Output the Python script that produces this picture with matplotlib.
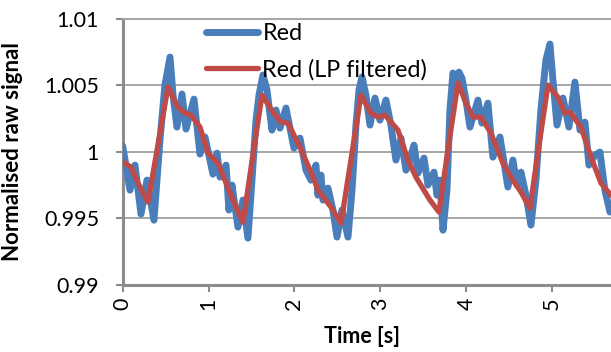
import matplotlib

matplotlib.use("Agg")
import matplotlib.pyplot as plt

plt.rcParams["font.family"] = ["Lato", "DejaVu Sans"]

# raw red channel (local peaks/troughs of the noisy trace)
blue_t = [0.00, 0.085, 0.143, 0.213, 0.283, 0.364, 0.434, 0.492, 0.551, 0.586,
          0.632, 0.690, 0.737, 0.830, 0.900, 0.958, 1.051, 1.098,
          1.133, 1.203, 1.237, 1.272, 1.342, 1.400, 1.458, 1.505, 1.552, 1.587,
          1.633, 1.680, 1.738, 1.785, 1.831, 1.901, 1.994, 2.064, 2.134, 2.192,
          2.250, 2.273, 2.308, 2.332, 2.390, 2.448, 2.495, 2.553, 2.623, 2.670,
          2.716, 2.751, 2.786, 2.832, 2.879, 2.937, 2.995, 3.065, 3.123, 3.181,
          3.240, 3.298,
          3.344, 3.391, 3.438, 3.508, 3.554, 3.624, 3.659, 3.694, 3.729, 3.775,
          3.810, 3.845, 3.880, 3.915, 3.950, 3.996, 4.043, 4.136, 4.182, 4.252,
          4.310, 4.392,
          4.485, 4.543, 4.590, 4.637, 4.695, 4.753, 4.811, 4.869, 4.927, 4.974,
          5.009, 5.056, 5.126, 5.195, 5.265, 5.324, 5.382, 5.428, 5.498, 5.556,
          5.614, 5.673]
blue_v = [1.00043, 0.99712, 0.99900, 0.99532, 0.99787, 0.99486, 1.00088, 1.00502, 1.00712, 1.00426,
          1.00186, 1.00434, 1.00171, 1.00396, 0.99983, 1.00111, 0.99832, 0.99990,
          0.99810, 0.99900, 0.99562, 0.99750, 0.99434, 0.99637, 0.99351, 0.99787, 1.00238, 1.00426,
          1.00577, 1.00464, 1.00163, 1.00314, 1.00178, 1.00329, 1.00028, 1.00103, 0.99862, 0.99787,
          0.99900, 0.99674, 0.99825, 0.99637, 0.99727, 0.99562, 0.99359, 0.99562, 0.99359, 0.99712,
          1.00201, 1.00464, 1.00562, 1.00426, 1.00201, 1.00404, 1.00238, 1.00389, 1.00201, 0.99938,
          1.00103, 0.99862,
          0.99938, 1.00050, 0.99840, 0.99953, 0.99750, 0.99847, 0.99674, 0.99787, 0.99411, 0.99712,
          1.00314, 1.00592, 1.00524, 1.00599, 1.00554, 1.00389, 1.00186, 1.00389, 1.00216, 1.00366,
          0.99960, 1.00111,
          0.99735, 0.99938, 0.99750, 0.99847, 0.99674, 0.99449, 0.99787, 1.00314, 1.00690, 1.00810,
          1.00539, 1.00201, 1.00404, 1.00186, 1.00524, 1.00163, 1.00223, 0.99900, 0.99975, 0.99998,
          0.99712, 0.99547]

# low-pass filtered trace
red_t = [0.00, 0.097, 0.178, 0.294, 0.410, 0.527, 0.644, 0.725, 0.795, 0.900, 0.993,
         1.109, 1.203, 1.319, 1.401, 1.510, 1.622, 1.750, 1.843, 1.925, 2.064,
         2.216, 2.274, 2.425, 2.542, 2.660, 2.774, 2.890, 2.972, 3.053, 3.205,
         3.321, 3.414, 3.577, 3.682, 3.790, 3.903, 3.996, 4.078, 4.171, 4.287,
         4.427, 4.520, 4.637, 4.741, 4.845, 4.951, 5.067, 5.149, 5.207, 5.335,
         5.452, 5.568, 5.684]
red_v = [0.99923, 0.99885, 0.99765, 0.99622, 1.00050, 1.00487, 1.00336, 1.00291, 1.00276, 1.00186, 0.99990,
         0.99915, 0.99765, 0.99584, 0.99471, 0.99950, 1.00426, 1.00299, 1.00223, 1.00216, 1.00035,
         0.99810, 0.99712, 0.99584, 0.99464, 0.99950, 1.00426, 1.00291, 1.00261, 1.00276, 1.00163,
         0.99938, 0.99810, 0.99637, 0.99547, 1.00030, 1.00517, 1.00366, 1.00261, 1.00261, 1.00141,
         0.99915, 0.99810, 0.99697, 0.99577, 1.00040, 1.00502, 1.00411, 1.00291, 1.00299, 1.00186,
         0.99960, 0.99765, 0.99674]

y_ticks = [0.99, 0.995, 1.0, 1.005, 1.01]
y_labels = ["0.99", "0.995", "1", "1.005", "1.01"]
x_ticks = [0, 1, 2, 3, 4, 5]

GRAY = "#8C8C8C"

fig = plt.figure(figsize=(6.11, 3.52), dpi=100)
ax = fig.add_axes([0.2008, 0.1909, 0.7992, 0.7557])

ax.plot(blue_t, blue_v, color="#4A7EBB", lw=5.0, solid_joinstyle="round",
        solid_capstyle="round", label="Red", zorder=3)
ax.plot(red_t, red_v, color="#BE4B48", lw=3.8, solid_joinstyle="round",
        solid_capstyle="round", label="Red (LP filtered)", zorder=4)

ax.set_xlim(0, 5.685)
ax.set_ylim(0.99, 1.01)
ax.set_yticks(y_ticks)
ax.set_yticklabels(y_labels)
ax.set_xticks(x_ticks)

ax.grid(axis="y", color="#A6A6A6", lw=1.4)
ax.set_axisbelow(True)
ax.spines["right"].set_visible(False)
ax.spines["top"].set_color("#A6A6A6")
ax.spines["top"].set_linewidth(1.4)
for s in ("left", "bottom"):
    ax.spines[s].set_color(GRAY)
    ax.spines[s].set_linewidth(2.2)

ax.tick_params(axis="y", length=5, width=1.5, color=GRAY, pad=12, labelsize=15.5)
ax.tick_params(axis="x", length=5, width=1.5, color=GRAY, pad=4, labelsize=15.5,
               labelrotation=90)

ax.set_ylabel("Normalised raw signal", fontsize=16, fontweight="bold")
ax.yaxis.set_label_coords(-0.205, 0.5)
ax.set_xlabel("Time [s]", fontsize=15.5, fontweight="bold")
ax.xaxis.set_label_coords(0.49, -0.155)

ax.legend(loc="upper left", bbox_to_anchor=(0.162, 1.0), frameon=False,
          fontsize=16.8, handlelength=2.2, handletextpad=0.2, labelspacing=0.62,
          borderaxespad=0.0, borderpad=0.2)

fig.savefig("out.png", dpi=100, facecolor="white")
